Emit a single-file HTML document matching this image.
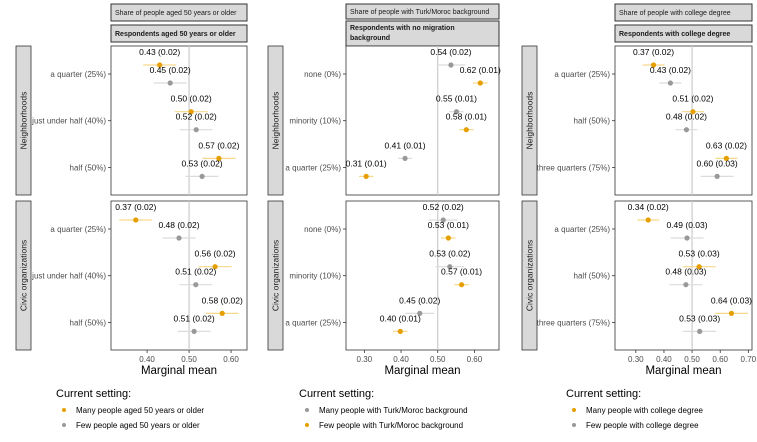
<!DOCTYPE html>
<html><head><meta charset="utf-8"><style>
body{margin:0;background:#fff;}
svg{display:block;font-family:"Liberation Sans",Arial,sans-serif;}
</style></head><body>
<svg id="chart" width="757" height="442" viewBox="0 0 757 442"></svg>
<script>
// ---- data ----
const facetTitles = ["Share of people aged 50 years or older","Share of people with Turk/Moroc background","Share of people with college degree"];
const respTitles = [["Respondents aged 50 years or older"],["Respondents with no migration","background"],["Respondents with college degree"]];
const rowTitles = ["Neighborhoods","Civic organizations"];
const cats1 = ["a quarter (25%)","just under half (40%)","half (50%)"];
const cats2 = ["none (0%)","minority (10%)","a quarter (25%)"];
const cats3 = ["a quarter (25%)","half (50%)","three quarters (75%)"];
// panel 1: Many (orange), Few (gray)
const p1NbMany = [0.43,0.505,0.571], p1NbManySe=[0.02,0.02,0.02], p1NbManyLab=["0.43 (0.02)","0.50 (0.02)","0.57 (0.02)"];
const p1NbFew = [0.455,0.517,0.531], p1NbFewSe=[0.02,0.02,0.02], p1NbFewLab=["0.45 (0.02)","0.52 (0.02)","0.53 (0.02)"];
const p1CvMany = [0.373,0.562,0.579], p1CvManySe=[0.02,0.02,0.02], p1CvManyLab=["0.37 (0.02)","0.56 (0.02)","0.58 (0.02)"];
const p1CvFew = [0.476,0.516,0.512], p1CvFewSe=[0.02,0.02,0.02], p1CvFewLab=["0.48 (0.02)","0.51 (0.02)","0.51 (0.02)"];
// panel 2: Many (gray, top), Few (orange)
const p2NbMany = [0.536,0.551,0.411], p2NbManySe=[0.02,0.01,0.01], p2NbManyLab=["0.54 (0.02)","0.55 (0.01)","0.41 (0.01)"];
const p2NbFew = [0.616,0.578,0.305], p2NbFewSe=[0.01,0.01,0.01], p2NbFewLab=["0.62 (0.01)","0.58 (0.01)","0.31 (0.01)"];
const p2CvMany = [0.515,0.533,0.451], p2CvManySe=[0.02,0.02,0.02], p2CvManyLab=["0.52 (0.02)","0.53 (0.02)","0.45 (0.02)"];
const p2CvFew = [0.529,0.565,0.398], p2CvFewSe=[0.01,0.01,0.01], p2CvFewLab=["0.53 (0.01)","0.57 (0.01)","0.40 (0.01)"];
// panel 3: Many (orange), Few (gray)
const p3NbMany = [0.363,0.503,0.622], p3NbManySe=[0.02,0.02,0.02], p3NbManyLab=["0.37 (0.02)","0.51 (0.02)","0.63 (0.02)"];
const p3NbFew = [0.423,0.48,0.589], p3NbFewSe=[0.02,0.02,0.03], p3NbFewLab=["0.43 (0.02)","0.48 (0.02)","0.60 (0.03)"];
const p3CvMany = [0.344,0.525,0.64], p3CvManySe=[0.02,0.03,0.03], p3CvManyLab=["0.34 (0.02)","0.53 (0.03)","0.64 (0.03)"];
const p3CvFew = [0.482,0.478,0.527], p3CvFewSe=[0.03,0.03,0.03], p3CvFewLab=["0.49 (0.03)","0.48 (0.03)","0.53 (0.03)"];
const ticks1 = [0.4,0.5,0.6], ticks2=[0.3,0.4,0.5,0.6], ticks3=[0.3,0.4,0.5,0.6,0.7];
const legend1 = ["Many people aged 50 years or older","Few people aged 50 years or older"];
const legend2 = ["Many people with Turk/Moroc background","Few people with Turk/Moroc background"];
const legend3 = ["Many people with college degree","Few people with college degree"];

const ORANGE="#E69F00", GRAY="#999999", ORL="#f6d88a", GRL="#dcdcdc";
const svg=document.getElementById('chart');
const NS="http://www.w3.org/2000/svg";
function mk(tag,attrs,parent,txt){const e=document.createElementNS(NS,tag);for(const k in attrs)e.setAttribute(k,attrs[k]);if(txt!==undefined)e.textContent=txt;(parent||svg).appendChild(e);return e;}

const panels=[
 {x0:111,x1:247,dmin:0.314,dmax:0.638,stripX:16,cats:cats1,ticks:ticks1,legend:legend1,legCols:[ORANGE,GRAY],legX:56,
  rows:[[p1NbMany,p1NbManySe,p1NbManyLab,p1NbFew,p1NbFewSe,p1NbFewLab],[p1CvMany,p1CvManySe,p1CvManyLab,p1CvFew,p1CvFewSe,p1CvFewLab]],
  topCol:ORANGE,botCol:GRAY,s1:[4,21],s2:[25,42]},
 {x0:346,x1:499,dmin:0.25,dmax:0.667,stripX:268,cats:cats2,ticks:ticks2,legend:legend2,legCols:[GRAY,ORANGE],legX:299,
  rows:[[p2NbMany,p2NbManySe,p2NbManyLab,p2NbFew,p2NbFewSe,p2NbFewLab],[p2CvMany,p2CvManySe,p2CvManyLab,p2CvFew,p2CvFewSe,p2CvFewLab]],
  topCol:GRAY,botCol:ORANGE,s1:[4,19],s2:[21,46]},
 {x0:615,x1:752,dmin:0.226,dmax:0.713,stripX:522,cats:cats3,ticks:ticks3,legend:legend3,legCols:[ORANGE,GRAY],legX:566,
  rows:[[p3NbMany,p3NbManySe,p3NbManyLab,p3NbFew,p3NbFewSe,p3NbFewLab],[p3CvMany,p3CvManySe,p3CvManyLab,p3CvFew,p3CvFewSe,p3CvFewLab]],
  topCol:ORANGE,botCol:GRAY,s1:[4,21],s2:[25,42]}
];
const panelY=[[46,195],[201,350]];

panels.forEach((p,pi)=>{
  const g=mk('g',{});
  
  
  const sx=v=>p.x0+(v-p.dmin)/(p.dmax-p.dmin)*(p.x1-p.x0);
  const st1=mk('rect',{x:p.x0,y:p.s1[0],width:p.x1-p.x0,height:p.s1[1]-p.s1[0],fill:"#d9d9d9",stroke:"#333","stroke-width":1},g);
  
  
  mk('text',{x:p.x0+4,y:(p.s1[0]+p.s1[1])/2+2.5,"font-size":"7",fill:"#1a1a1a"},g,facetTitles[pi]);
  const st2=mk('rect',{x:p.x0,y:p.s2[0],width:p.x1-p.x0,height:p.s2[1]-p.s2[0],fill:"#d9d9d9",stroke:"#333","stroke-width":1},g);
  
  
  const lines=respTitles[pi];
  lines.forEach((t,i)=>{
    const cy=lines.length===1?(p.s2[0]+p.s2[1])/2+2.5:p.s2[0]+9+i*10;
    mk('text',{x:p.x0+4,y:cy,"font-size":"7","font-weight":"bold",fill:"#1a1a1a"},g,t);
  });
  panelY.forEach((py,ri)=>{
    const [y0,y1]=py;
    mk('rect',{x:p.x0,y:y0,width:p.x1-p.x0,height:y1-y0,fill:"#fff",stroke:"#333","stroke-width":0.8},g);
    mk('line',{x1:sx(0.5),x2:sx(0.5),y1:y0,y2:y1,stroke:"#cccccc","stroke-width":1.2},g);
    const rs=mk('rect',{x:p.stripX,y:y0,width:15,height:y1-y0,fill:"#d9d9d9",stroke:"#333","stroke-width":0.8},g);
    
    
    const cyS=(y0+y1)/2;
    mk('text',{x:p.stripX+10.5,y:cyS,"font-size":"8.5",fill:"#1a1a1a","text-anchor":"middle",transform:`rotate(-90 ${p.stripX+10.5} ${cyS})`},g,rowTitles[ri]);
    const [a,aSe,aLab,b,bSe,bLab]=p.rows[ri];
    p.cats.forEach((c,ci)=>{
      const cy=y0+28+ci*46.7;
      mk('line',{x1:p.x0-3,x2:p.x0,y1:cy,y2:cy,stroke:"#333","stroke-width":0.8},g);
      const tl=mk('text',{x:p.x0-5,y:cy+3,"font-size":"8",fill:"#4d4d4d","text-anchor":"end"},g,c);
      
      
      [[a,aSe,aLab,p.topCol,cy-9],[b,bSe,bLab,p.botCol,cy+9]].forEach(([vals,ses,labs,col,yy])=>{
        const v=vals[ci],se=ses[ci];
        mk('line',{x1:sx(v-1.96*se),x2:sx(v+1.96*se),y1:yy,y2:yy,stroke:col===ORANGE?ORL:GRL,"stroke-width":1.2},g);
        const pt=mk('circle',{cx:sx(v),cy:yy,r:2.6,fill:col},g);
        
        
        mk('text',{x:sx(v),y:yy-10,"font-size":"8.5",fill:"#000","text-anchor":"middle"},g,labs[ci]);
      });
    });
  });
  p.ticks.forEach(t=>{
    mk('line',{x1:sx(t),x2:sx(t),y1:350,y2:353,stroke:"#333","stroke-width":0.8},g);
    mk('text',{x:sx(t),y:362,"font-size":"8",fill:"#4d4d4d","text-anchor":"middle"},g,t.toFixed(2));
  });
  const xt=mk('text',{x:(p.x0+p.x1)/2,y:374,"font-size":"11.5",fill:"#000","text-anchor":"middle"},g,"Marginal mean");
  
  
  const lg=mk('g',{},g);
  
  
  mk('text',{x:p.legX,y:397,"font-size":"11",fill:"#000"},lg,"Current setting:");
  p.legend.forEach((t,i)=>{
    const yy=410+i*15;
    mk('circle',{cx:p.legX+8,cy:yy,r:2,fill:p.legCols[i]},lg);
    const le=mk('text',{x:p.legX+20,y:yy+3,"font-size":"8",fill:"#000"},lg,t);
    
    
  });
});
</script>
</body></html>
